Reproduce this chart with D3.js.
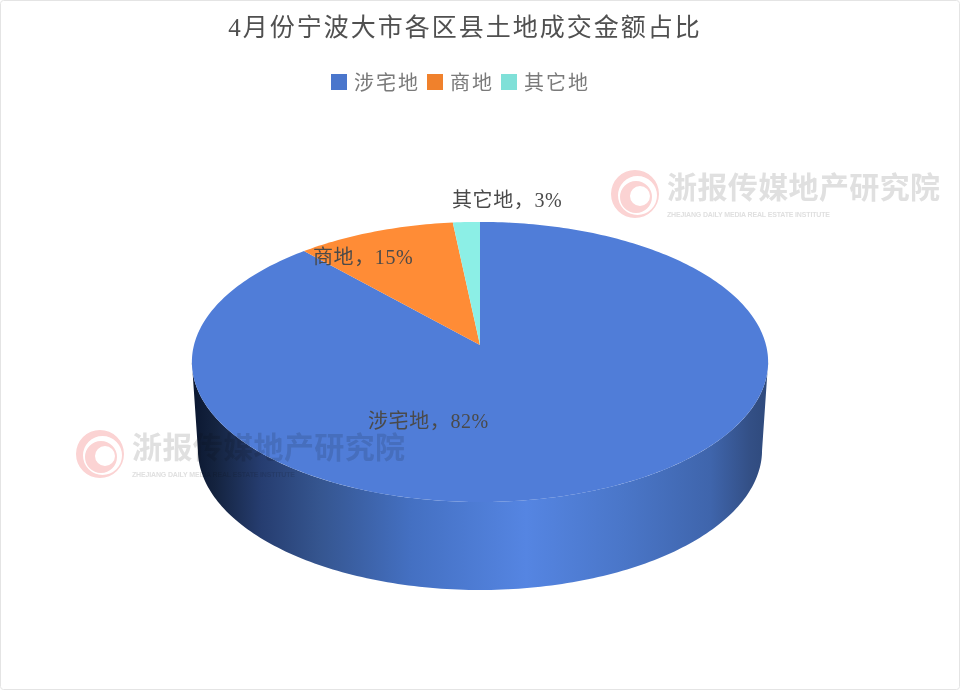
<!DOCTYPE html>
<html><head><meta charset="utf-8">
<style>html,body{margin:0;padding:0;background:#fff}svg{display:block}</style>
<script src="https://cdn.jsdelivr.net/npm/d3@7/dist/d3.min.js"></script></head><body>
<svg id="c" width="960" height="690"></svg>
<script>
const titleText = "4月份宁波大市各区县土地成交金额占比";
const categories = ["涉宅地","商地","其它地"];
// Percentages printed in the picture's labels
const labelPercents = [82,15,3];
// Slice sizes as actually drawn in the picture (they differ from the printed labels)
const drawnShares = [88.3,10,1.7];
const topColors = ["#507dd8","#ff8c36","#8cefe6"];
const legendColors = ["#4a76cc","#f0812c","#7fe0d8"];
const wmName = "浙报传媒地产研究院";
const wmSub = "ZHEJIANG DAILY MEDIA REAL ESTATE INSTITUTE";

const CJK = "'Liberation Serif','Noto Sans CJK SC',serif";
const svg = d3.select("#c");
const defs = svg.append("defs");

svg.append("rect").attr("x",.5).attr("y",.5).attr("width",959).attr("height",689)
  .attr("rx",3).attr("fill","#fff").attr("stroke","#e4e4e4");

svg.append("text").attr("x",465).attr("y",36).attr("text-anchor","middle")
  .attr("font-family",CJK).attr("font-size",25).attr("letter-spacing",2).attr("fill","#505050").text(titleText);

// legend
const legendX = [331,427,501];
const lg = svg.append("g");
categories.forEach((c,i)=>{
  lg.append("rect").attr("x",legendX[i]).attr("y",74).attr("width",16).attr("height",16).attr("fill",legendColors[i]);
  lg.append("text").attr("x",legendX[i]+23).attr("y",90).attr("font-family",CJK).attr("font-size",20)
    .attr("letter-spacing",2).attr("fill","#7a7a7a").text(c);
});

// pie with perspective projection
const cx=480, midY=362, apexY=345, X=286, A=138, persp=0.121, depth=88, baseScale=0.979;
const project = th => [cx + X*Math.sin(th)/(1+persp*Math.cos(th)), apexY - A*Math.cos(th)/(1+persp*Math.cos(th))];
const pie = d3.pie().sort(null).value(d=>d)(drawnShares);
const line = d3.line();

// side wall
const grad = defs.append("linearGradient").attr("id","side").attr("gradientUnits","userSpaceOnUse")
  .attr("x1",192).attr("x2",768).attr("y1",0).attr("y2",0);
[[0,"#0b1730"],[.04,"#14233f"],[.12,"#263d70"],[.22,"#35558f"],[.38,"#4470c2"],[.58,"#5585e2"],[.75,"#4a76c8"],[.9,"#3f65ac"],[.97,"#334f85"],[1,"#2f4a7c"]]
  .forEach(s=>grad.append("stop").attr("offset",s[0]).attr("stop-color",s[1]));
const thetas = d3.range(0,2*Math.PI+0.001,Math.PI/180);
const rim = thetas.map(project);
const lower = rim.filter(p=>p[1]>=midY).sort((a,b)=>a[0]-b[0]);
const wall = lower.concat(lower.slice().reverse().map(p=>[cx+(p[0]-cx)*baseScale,p[1]+depth]));
svg.append("path").attr("d",line(wall)+"Z").attr("fill","url(#side)");

// top face
pie.forEach((s,i)=>{
  const n = Math.max(2,Math.ceil((s.endAngle-s.startAngle)/(Math.PI/180)));
  const pts = d3.range(n+1).map(k=>project(s.startAngle+(s.endAngle-s.startAngle)*k/n));
  svg.append("path").attr("d",line([[cx,apexY],...pts])+"Z").attr("fill",topColors[i]);
});

// data labels
const labelPos = [[368,428],[313,264],[452,207]];
categories.forEach((c,i)=>{
  svg.append("text").attr("x",labelPos[i][0]).attr("y",labelPos[i][1])
    .attr("font-family",CJK).attr("font-size",20).attr("letter-spacing",.6).attr("fill","#4a4a4a")
    .text(`${c}，${labelPercents[i]}%`);
});

// watermarks
defs.append("filter").attr("id","soft").append("feGaussianBlur").attr("stdDeviation",.45);
const circle = (x,y,r) => { const p=d3.path(); p.moveTo(x+r,y); p.arc(x,y,r,0,2*Math.PI); p.closePath(); return p.toString(); };
const wmOffsets = [[0,0],[-535,260]];
wmOffsets.forEach(o=>{
  const g = svg.append("g").attr("transform",`translate(${o[0]},${o[1]})`)
    .attr("filter","url(#soft)").style("mix-blend-mode","multiply");
  g.append("path").attr("fill-rule","evenodd").attr("fill","#fbd3d3")
    .attr("d",circle(635,194,24)+circle(637.5,195.5,19.5));
  g.append("path").attr("fill-rule","evenodd").attr("fill","#fbd3d3")
    .attr("d",circle(636,197,16)+circle(640,196,10));
  g.append("text").attr("x",667).attr("y",198).attr("font-family","'Noto Sans CJK SC'").attr("font-weight",700)
    .attr("font-size",30).attr("textLength",273).attr("lengthAdjust","spacing").attr("fill","#e0e0e0").text(wmName);
  g.append("text").attr("x",667).attr("y",217).attr("font-family","'Liberation Sans'").attr("font-weight",700)
    .attr("font-size",7).attr("textLength",163).attr("fill","#e0e0e0").text(wmSub);
});
</script></body></html>
